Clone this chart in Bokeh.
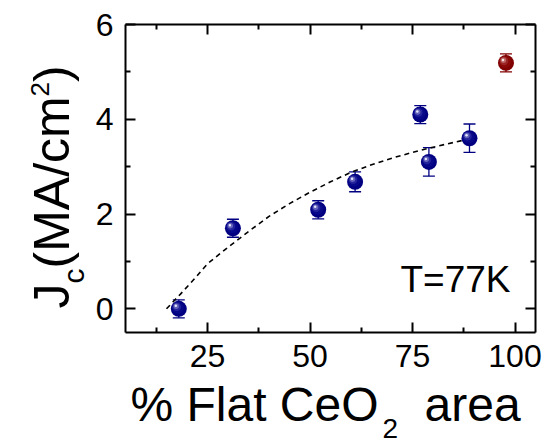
import numpy as np
from bokeh.plotting import figure
from bokeh.models import (ColumnDataSource, Whisker, TeeHead, LinearAxis,
                          FixedTicker, Range1d, Label)
from bokeh.embed import file_html
from bokeh.resources import INLINE

# ---------------- data ----------------
flat_area = [18.0, 31.2, 52.0, 61.0, 76.9, 79.0, 88.9]
jc = [0.0, 1.70, 2.09, 2.68, 4.10, 3.10, 3.60]
jc_err = [0.19, 0.19, 0.19, 0.21, 0.19, 0.30, 0.30]

ref_area = [97.8]
ref_jc = [5.19]
ref_err = [0.19]

fit_x = [15, 18.4, 22, 25, 30, 35, 40, 45, 50, 55, 60, 65, 70, 75, 80, 85, 88.5]
fit_y = [0.0, 0.31, 0.65, 0.95, 1.30, 1.63, 1.95, 2.22, 2.46, 2.68, 2.88,
         3.04, 3.18, 3.30, 3.41, 3.51, 3.58]

x_ticks = [25, 50, 75, 100]
x_minor = [12.5, 37.5, 62.5, 87.5]
y_ticks = [0, 2, 4, 6]
y_minor = [1, 3, 5]

X_LIM = (5, 105)
Y_LIM = (-0.5, 6)

# ---------------- layout (pixels) ----------------
W, H = 551, 444
BOX_L, BOX_R, BOX_T, BOX_B = 125, 535, 24, 332
FONT = "Liberation Sans"

ppx = (BOX_R - BOX_L) / (X_LIM[1] - X_LIM[0])  # px per x unit
ppy = (BOX_B - BOX_T) / (Y_LIM[1] - Y_LIM[0])  # px per y unit
x_range = Range1d(X_LIM[0] - BOX_L / ppx, X_LIM[1] + (W - BOX_R) / ppx)
y_range = Range1d(Y_LIM[0] - (H - BOX_B) / ppy, Y_LIM[1] + BOX_T / ppy)

p = figure(width=W, height=H, x_range=x_range, y_range=y_range,
           output_backend="svg", toolbar_location=None,
           min_border=0, min_border_left=0, min_border_right=0,
           min_border_top=0, min_border_bottom=0,
           background_fill_color="white", border_fill_color="white")
p.xgrid.visible = False
p.ygrid.visible = False
p.outline_line_color = None


def style_axis(ax, ticks, minor, loc, bounds, labels=True):
    ax.ticker = FixedTicker(ticks=ticks, minor_ticks=minor)
    ax.fixed_location = loc
    ax.bounds = bounds
    ax.axis_line_width = 2
    ax.axis_line_color = "black"
    ax.major_tick_in = 10
    ax.major_tick_out = 0
    ax.minor_tick_in = 5
    ax.minor_tick_out = 0
    ax.major_tick_line_width = 2
    ax.minor_tick_line_width = 2
    ax.major_tick_line_color = "black"
    ax.minor_tick_line_color = "black"
    ax.major_label_text_font = FONT
    ax.major_label_text_color = "black"
    ax.major_label_text_font_size = "32px"
    if not labels:
        ax.major_label_overrides = {t: "" for t in ticks}


style_axis(p.xaxis[0], x_ticks, x_minor, Y_LIM[0], X_LIM)
p.xaxis[0].major_label_standoff = 12
style_axis(p.yaxis[0], y_ticks, y_minor, X_LIM[0], Y_LIM)
p.yaxis[0].major_label_standoff = 12

top = LinearAxis()
style_axis(top, x_ticks, x_minor, Y_LIM[1], X_LIM, labels=False)
p.add_layout(top, "above")
right = LinearAxis()
style_axis(right, y_ticks, y_minor, X_LIM[1], Y_LIM, labels=False)
p.add_layout(right, "right")

# ---------------- fit line ----------------
p.line(fit_x, fit_y, line_color="black", line_width=1.6, line_dash="5 4")

# ---------------- error bars ----------------
NAVY = "#000080"
DRED = "#800000"


def add_errors(xs, ys, es, color):
    ys_a = np.array(ys)
    es_a = np.array(es)
    src = ColumnDataSource(dict(x=xs, lo=ys_a - es_a, hi=ys_a + es_a))
    w = Whisker(source=src, base="x", lower="lo", upper="hi",
                line_color=color, line_width=1.3,
                upper_head=TeeHead(size=12, line_color=color, line_width=1.3),
                lower_head=TeeHead(size=12, line_color=color, line_width=1.3),
                level="underlay")
    p.add_layout(w)


add_errors(flat_area, jc, jc_err, NAVY)
add_errors(ref_area, ref_jc, ref_err, DRED)

# ---------------- shaded spheres ----------------
dx = 1.0 / ppx  # data units per pixel
dy = 1.0 / ppy

# (diameter px, offset left px, offset up px)
layers = [(16, 0, 0), (12, 1, 1), (8.5, 2, 2), (5.5, 2.6, 2.6), (2.5, 3, 3)]
navy_cols = ["#000080", "#08088a", "#24249c", "#6464bc", "#e4e4f8"]
red_cols = ["#800000", "#8a0808", "#9c2424", "#bc6464", "#f8e4e4"]


def add_spheres(xs, ys, cols):
    xs_a = np.array(xs)
    ys_a = np.array(ys)
    for (d, ox, oy), c in zip(layers, cols):
        p.scatter(xs_a - ox * dx, ys_a + oy * dy, size=d, marker="circle",
                  fill_color=c, line_color=None)


add_spheres(flat_area, jc, navy_cols)
add_spheres(ref_area, ref_jc, red_cols)

# ---------------- texts (page px from top-left; baseline positions) -------
K = 0.32  # renderer places the alphabetic baseline about this many em low


def lab(text, sx, sy_top, size, angle=0):
    if angle == 0:
        sy_top = sy_top - K * size
    else:
        sx = sx - K * size
    p.add_layout(Label(x=sx, y=H - sy_top, x_units="screen", y_units="screen",
                       text=text, text_font=FONT, text_font_size=f"{size}px",
                       text_color="black", text_baseline="alphabetic",
                       text_align="left", angle=angle, angle_units="deg"))


# y title: J_c(MA/cm^2)  (rotated)
lab("J", 67, 308, 50, 90)
lab("c", 83, 283, 30, 90)
lab("(MA/cm", 67, 268, 50, 90)
lab("2", 48, 96, 26, 90)
lab(")", 67, 81.5, 50, 90)

# x title: % Flat CeO_2 area
lab("% Flat CeO", 130, 419, 48)
lab("2", 382, 437, 28)
lab("area", 424, 419, 48)

# annotation
lab("T=77K", 400, 291, 37)

open("out.html", "w").write(file_html(p, INLINE))
